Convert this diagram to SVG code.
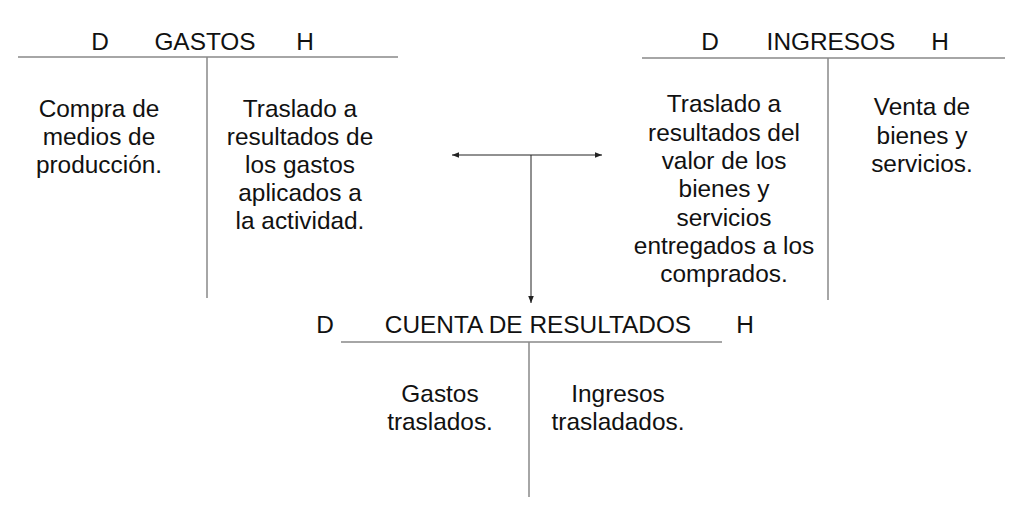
<svg xmlns="http://www.w3.org/2000/svg" width="1024" height="506" viewBox="0 0 1024 506">
<style>
text{font-family:"Liberation Sans",Arial,sans-serif;font-size:24.4px;fill:#111;text-anchor:middle}
.ln{stroke:#888;stroke-width:1.5;fill:none}
.cn{stroke:#222;stroke-width:1;fill:none}
</style>
<defs>
<marker id="ah" viewBox="0 0 10 10" refX="10" refY="5" markerWidth="7" markerHeight="7" orient="auto-start-reverse" markerUnits="userSpaceOnUse">
<path d="M0,1 L10,5 L0,9 Z" fill="#222"/>
</marker>
</defs>
<rect width="1024" height="506" fill="#fff"/>
<g id="gastos">
<text x="100" y="50">D</text><text x="205" y="50">GASTOS</text><text x="305" y="50">H</text>
<line class="ln" x1="18" y1="57" x2="398" y2="57"/>
<line class="ln" x1="207" y1="57" x2="207" y2="298"/>
<text x="99" y="117">Compra de</text>
<text x="99" y="145">medios de</text>
<text x="99" y="173">producción.</text>
<text x="300" y="117">Traslado a</text>
<text x="300" y="145">resultados de</text>
<text x="300" y="173">los gastos</text>
<text x="300" y="201">aplicados a</text>
<text x="300" y="229">la actividad.</text>
</g>
<g id="ingresos">
<text x="710" y="50">D</text><text x="831" y="50">INGRESOS</text><text x="940" y="50">H</text>
<line class="ln" x1="642" y1="58" x2="1005" y2="58"/>
<line class="ln" x1="828" y1="58" x2="828" y2="300"/>
<text x="724" y="112">Traslado a</text>
<text x="724" y="141">resultados del</text>
<text x="724" y="169">valor de los</text>
<text x="724" y="197">bienes y</text>
<text x="724" y="226">servicios</text>
<text x="724" y="254">entregados a los</text>
<text x="724" y="282">comprados.</text>
<text x="922" y="115">Venta de</text>
<text x="922" y="144">bienes y</text>
<text x="922" y="172">servicios.</text>
</g>
<g id="resultados">
<text x="325" y="333">D</text><text x="538" y="333">CUENTA DE RESULTADOS</text><text x="745" y="333">H</text>
<line class="ln" x1="341" y1="342" x2="722" y2="342"/>
<line class="ln" x1="529" y1="342" x2="529" y2="497"/>
<text x="440" y="402">Gastos</text>
<text x="440" y="430">traslados.</text>
<text x="618" y="402">Ingresos</text>
<text x="618" y="430">trasladados.</text>
</g>
<g id="connectors">
<line class="cn" x1="452" y1="155" x2="602" y2="155" marker-start="url(#ah)" marker-end="url(#ah)"/>
<line class="cn" x1="531" y1="155" x2="531" y2="303" marker-end="url(#ah)"/>
</g>
</svg>
